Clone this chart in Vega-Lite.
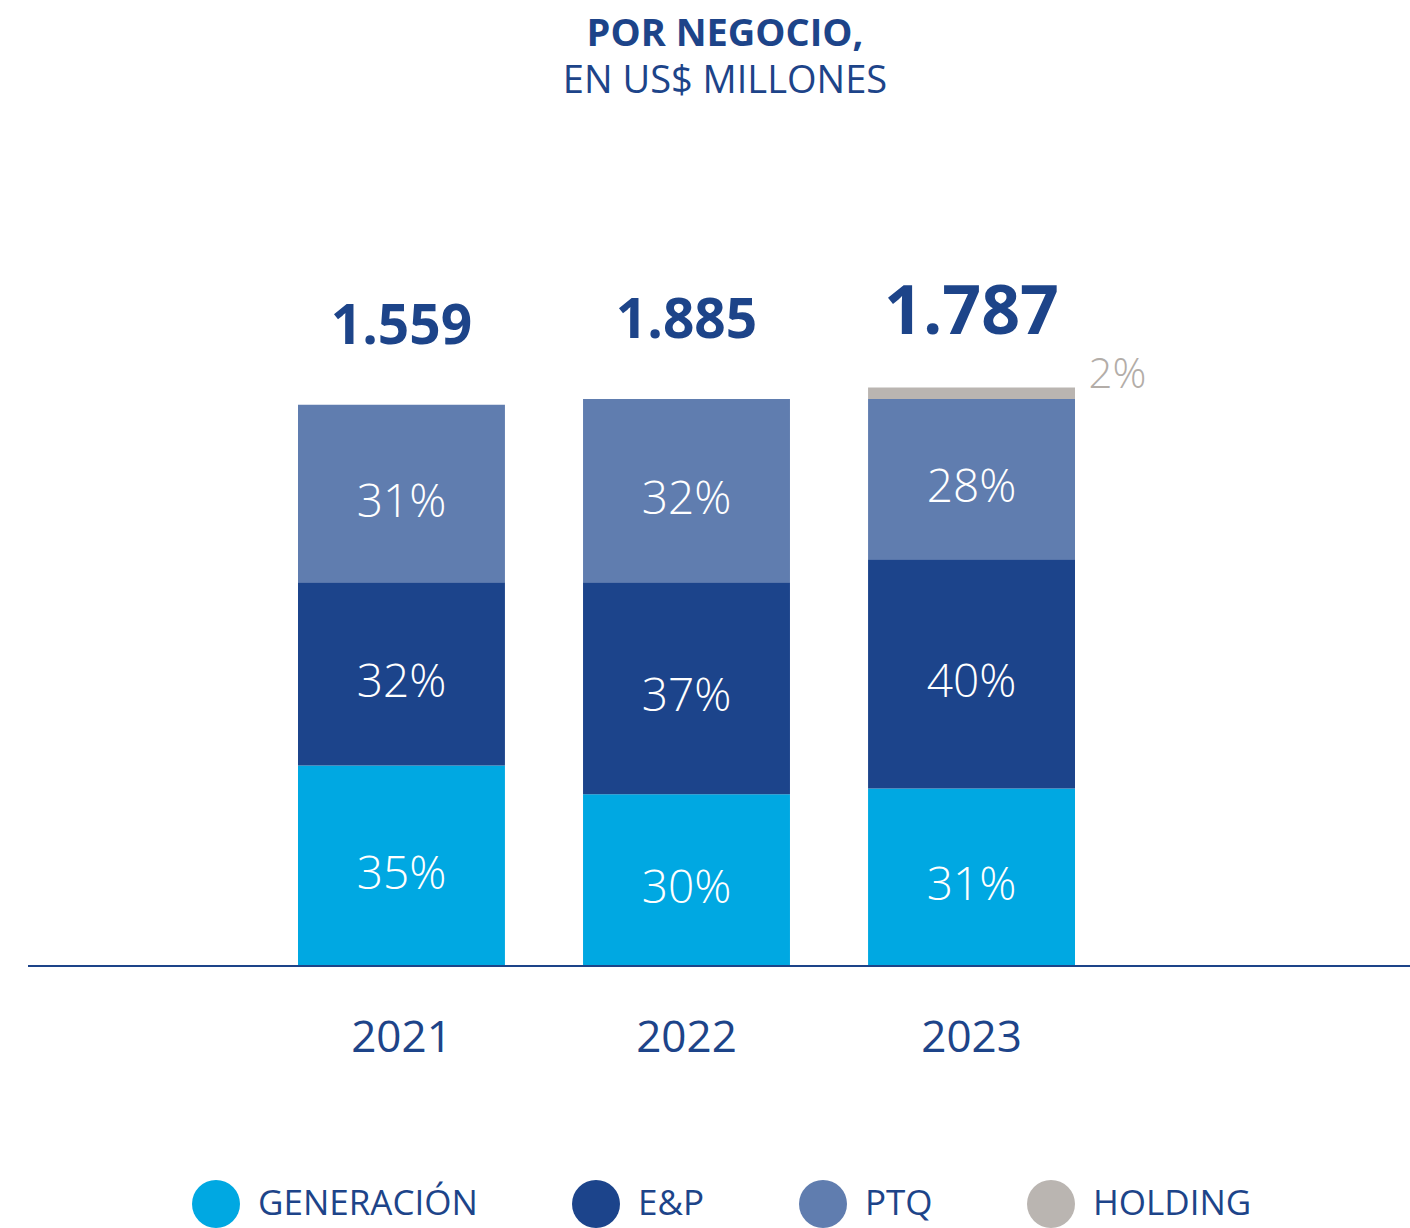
{
  "$schema": "https://vega.github.io/schema/vega-lite/v6.json",
  "width": 1382,
  "height": 630,
  "autosize": "none",
  "padding": {"left": 28, "top": 336, "right": 0, "bottom": 262},
  "background": "white",
  "config": {
    "view": {"stroke": null},
    "font": "Open Sans",
    "locale": {"number": {"decimal": ",", "thousands": ".", "grouping": [3], "currency": ["US$", ""]}}
  },
  "title": {
    "text": "POR NEGOCIO,",
    "subtitle": "EN US$ MILLONES",
    "anchor": "middle",
    "frame": "group",
    "offset": 179,
    "dx": 6,
    "font": "Open Sans",
    "fontSize": 38,
    "fontWeight": "bold",
    "color": "#1d4489",
    "subtitleFont": "Open Sans",
    "subtitleFontSize": 38,
    "subtitleFontWeight": "normal",
    "subtitleColor": "#1d4489",
    "subtitlePadding": 9
  },
  "datasets": {
    "segments": [
      {"year": "2021", "segment": "GENERACIÓN", "pct": 0.35, "orden": 1},
      {"year": "2021", "segment": "E&P", "pct": 0.32, "orden": 2},
      {"year": "2021", "segment": "PTQ", "pct": 0.31, "orden": 3},
      {"year": "2022", "segment": "GENERACIÓN", "pct": 0.30, "orden": 1},
      {"year": "2022", "segment": "E&P", "pct": 0.37, "orden": 2},
      {"year": "2022", "segment": "PTQ", "pct": 0.32, "orden": 3},
      {"year": "2023", "segment": "GENERACIÓN", "pct": 0.31, "orden": 1},
      {"year": "2023", "segment": "E&P", "pct": 0.40, "orden": 2},
      {"year": "2023", "segment": "PTQ", "pct": 0.28, "orden": 3},
      {"year": "2023", "segment": "HOLDING", "pct": 0.02, "orden": 4}
    ],
    "totals": [
      {"year": "2021", "total": 1559},
      {"year": "2022", "total": 1885},
      {"year": "2023", "total": 1787}
    ]
  },
  "data": {"name": "segments"},
  "transform": [
    {"stack": "pct", "groupby": ["year"], "sort": [{"field": "orden", "order": "ascending"}], "as": ["y0", "y1"]}
  ],
  "layer": [
    {
      "mark": {"type": "bar"},
      "encoding": {
        "x": {
          "field": "year",
          "type": "nominal",
          "scale": {"range": [270, 1047], "paddingInner": 0.274, "paddingOuter": 0},
          "axis": {
            "title": null,
            "labelAngle": 0,
            "labelFont": "Open Sans",
            "labelFontSize": 44,
            "labelColor": "#1d4489",
            "labelPadding": 50,
            "ticks": false,
            "grid": false,
            "domain": false
          }
        },
        "y": {"field": "y0", "type": "quantitative", "scale": {"domain": [0, 1.1], "nice": false, "zero": true}, "axis": null},
        "y2": {"field": "y1"},
        "color": {
          "field": "segment",
          "type": "nominal",
          "scale": {
            "domain": ["GENERACIÓN", "E&P", "PTQ", "HOLDING"],
            "range": ["#00a8e2", "#1c448b", "#607daf", "#bab5b1"]
          },
          "legend": {
            "orient": "none",
            "legendX": 164,
            "legendY": 844,
            "direction": "horizontal",
            "title": null,
            "symbolType": "circle",
            "symbolSize": 2304,
            "symbolStrokeWidth": 0,
            "symbolOpacity": 1,
            "labelFont": "Open Sans",
            "labelFontSize": 35,
            "labelColor": "#1d4489",
            "labelOffset": 18,
            "labelLimit": 400,
            "columnPadding": 94,
            "padding": 0
          }
        }
      }
    },
    {
      "transform": [
        {"filter": "datum.segment !== 'HOLDING'"},
        {"fold": ["y0", "y1"], "as": ["edge", "value"]}
      ],
      "mark": {"type": "text", "color": "white", "fontSize": 46, "fontWeight": 300, "baseline": "middle", "dy": 9},
      "encoding": {
        "x": {"field": "year", "type": "nominal"},
        "y": {"field": "value", "aggregate": "mean", "type": "quantitative", "stack": null},
        "text": {"field": "pct", "type": "quantitative", "format": ".0%"},
        "detail": {"field": "segment"}
      }
    },
    {
      "transform": [
        {"filter": "datum.segment === 'HOLDING'"},
        {"fold": ["y0", "y1"], "as": ["edge", "value"]}
      ],
      "mark": {"type": "text", "color": "#b3ada8", "fontSize": 42, "fontWeight": 300, "baseline": "middle", "align": "left", "dx": 117, "dy": -18},
      "encoding": {
        "x": {"field": "year", "type": "nominal"},
        "y": {"field": "value", "aggregate": "mean", "type": "quantitative", "stack": null},
        "text": {"field": "pct", "type": "quantitative", "format": ".0%"},
        "detail": {"field": "segment"}
      }
    },
    {
      "transform": [
        {"aggregate": [{"op": "max", "field": "y1", "as": "top"}], "groupby": ["year"]},
        {"lookup": "year", "from": {"data": {"name": "totals"}, "key": "year", "fields": ["total"]}},
        {"filter": "datum.year !== '2023'"}
      ],
      "mark": {"type": "text", "color": "#1d4489", "fontSize": 55, "fontWeight": "bold", "baseline": "alphabetic", "dy": -61},
      "encoding": {
        "x": {"field": "year", "type": "nominal"},
        "y": {"field": "top", "type": "quantitative"},
        "text": {"field": "total", "type": "quantitative", "format": ",d"}
      }
    },
    {
      "transform": [
        {"aggregate": [{"op": "max", "field": "y1", "as": "top"}], "groupby": ["year"]},
        {"lookup": "year", "from": {"data": {"name": "totals"}, "key": "year", "fields": ["total"]}},
        {"filter": "datum.year === '2023'"}
      ],
      "mark": {"type": "text", "color": "#1d4489", "fontSize": 68, "fontWeight": "bold", "baseline": "alphabetic", "dy": -54},
      "encoding": {
        "x": {"field": "year", "type": "nominal"},
        "y": {"field": "top", "type": "quantitative"},
        "text": {"field": "total", "type": "quantitative", "format": ",d"}
      }
    },
    {
      "transform": [
        {"aggregate": [{"op": "count", "as": "n"}]}
      ],
      "mark": {"type": "rule", "color": "#1d4489", "strokeWidth": 2},
      "encoding": {
        "y": {"datum": 0, "type": "quantitative"}
      }
    }
  ]
}
